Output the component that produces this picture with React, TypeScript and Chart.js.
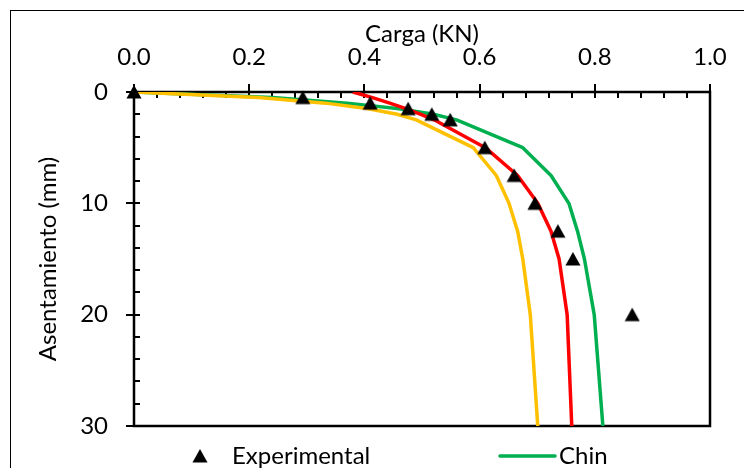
import React, { useEffect, useRef } from "react";
import { Chart, registerables } from "chart.js";

Chart.register(...registerables);

// ---- data ----
const settlementExp = [0, 0.5, 1, 1.5, 2, 2.5, 5, 7.5, 10, 12.5, 15, 20];
const loadExp = [0, 0.293, 0.41, 0.476, 0.517, 0.549, 0.609, 0.66, 0.696, 0.736, 0.762, 0.865];

const settlementModel = [0, 0.5, 1, 1.5, 2, 2.5, 5, 7.5, 10, 12.5, 15, 20, 30];
const loadChin = [0, 0.24, 0.37, 0.46, 0.52, 0.56, 0.675, 0.724, 0.755, 0.77, 0.782, 0.799, 0.814];
const loadVanDerVeen = [0.38, 0.414, 0.444, 0.472, 0.498, 0.521, 0.61, 0.666, 0.701, 0.724, 0.738, 0.752, 0.76];
const loadDecourt = [0, 0.216, 0.333, 0.407, 0.457, 0.49, 0.589, 0.629, 0.651, 0.666, 0.675, 0.688, 0.701];

const seriesLabels = ["Experimental", "Chin", "Van der Veen", "Decourt"];
const seriesColors = ["#000000", "#00B050", "#FF0000", "#FFC000"];

const xTicks = [0, 0.2, 0.4, 0.6, 0.8, 1.0];
const yTicks = [0, 10, 20, 30];
const xMinorStep = 0.04;
const yMinorStep = 2;

const xTitle = "Carga (KN)";
const yTitle = "Asentamiento (mm)";

const FONT = "Lato";
const FS = 24;

function pts(xs: number[], ys: number[]) {
  return xs.map((x, i) => ({ x, y: ys[i] }));
}

function makeTriangle(): HTMLCanvasElement {
  const c = document.createElement("canvas");
  c.width = 16;
  c.height = 16;
  const g = c.getContext("2d")!;
  g.fillStyle = "#000";
  g.beginPath();
  g.moveTo(8, 1);
  g.lineTo(15.5, 14.5);
  g.lineTo(0.5, 14.5);
  g.closePath();
  g.fill();
  return c;
}

export default function App() {
  const ref = useRef<HTMLCanvasElement>(null);

  useEffect(() => {
    const canvas = ref.current!;
    const marker = makeTriangle();

    const decorPlugin = {
      id: "decor",
      beforeDraw(chart: any) {
        const { ctx, width, height } = chart;
        ctx.save();
        ctx.fillStyle = "#fff";
        ctx.fillRect(0, 0, width, height);
        ctx.strokeStyle = "#000";
        ctx.lineWidth = 1;
        ctx.strokeRect(10.5, 10.5, width, height);
        ctx.restore();
      },
      beforeDatasetsDraw(chart: any) {
        const { ctx, chartArea } = chart;
        const xs = chart.scales.x;
        const ys = chart.scales.y;
        ctx.save();
        ctx.strokeStyle = "#000";
        ctx.lineWidth = 2;
        // inward minor ticks on the top axis
        for (let v = xs.min; v <= xs.max + 1e-9; v += xMinorStep) {
          const px = Math.round(xs.getPixelForValue(v));
          ctx.beginPath();
          ctx.moveTo(px, chartArea.top);
          ctx.lineTo(px, chartArea.top + 6);
          ctx.stroke();
        }
        // inward minor ticks on the left axis
        for (let v = ys.min; v <= ys.max + 1e-9; v += yMinorStep) {
          const py = Math.round(ys.getPixelForValue(v));
          ctx.beginPath();
          ctx.moveTo(chartArea.left, py);
          ctx.lineTo(chartArea.left + 6, py);
          ctx.stroke();
        }
        // plot frame
        ctx.lineWidth = 2.5;
        ctx.strokeRect(
          chartArea.left,
          chartArea.top,
          chartArea.right - chartArea.left,
          chartArea.bottom - chartArea.top
        );
        ctx.restore();
      },
      afterDraw(chart: any) {
        const { ctx } = chart;
        ctx.save();
        ctx.font = `${FS}px ${FONT}`;
        ctx.fillStyle = "#000";
        ctx.textBaseline = "middle";
        ctx.textAlign = "left";
        const rows = [456, 492];
        const colSym = [200, 500];
        const colText = [232, 559];
        seriesLabels.forEach((label, i) => {
          const row = rows[Math.floor(i / 2)];
          const col = i % 2;
          if (i === 0) {
            ctx.drawImage(marker, colSym[0] - 8, row - 8);
          } else {
            ctx.strokeStyle = seriesColors[i];
            ctx.lineWidth = 3.5;
            ctx.lineCap = "round";
            ctx.beginPath();
            ctx.moveTo(colSym[col], row);
            ctx.lineTo(colSym[col] + 55, row);
            ctx.stroke();
          }
          ctx.fillText(label, colText[col], row);
        });
        ctx.restore();
      },
    };

    Chart.defaults.font.family = FONT;
    Chart.defaults.color = "#000";

    const lineDs = (i: number, data: number[], order: number) => ({
      label: seriesLabels[i],
      data: pts(data, settlementModel),
      showLine: true,
      borderColor: seriesColors[i],
      backgroundColor: seriesColors[i],
      borderWidth: 3.5,
      borderJoinStyle: "round",
      pointRadius: 0,
      tension: 0,
      order,
    });

    const chart = new Chart(canvas, {
      type: "scatter",
      data: {
        datasets: [
          {
            label: seriesLabels[0],
            data: pts(loadExp, settlementExp),
            pointStyle: marker as any,
            pointRadius: 8,
            showLine: false,
            clip: false as any,
            order: 0,
          },
          lineDs(1, loadChin, 3),
          lineDs(2, loadVanDerVeen, 1),
          lineDs(3, loadDecourt, 2),
        ] as any,
      },
      options: {
        responsive: false,
        animation: false,
        devicePixelRatio: 1,
        layout: { padding: { left: 0, top: 0, right: 50, bottom: 84 } },
        plugins: {
          legend: { display: false },
          tooltip: { enabled: false },
        },
        scales: {
          x: {
            type: "linear",
            position: "top",
            min: 0,
            max: 1,
            afterBuildTicks: (s: any) => {
              s.ticks = xTicks.map((v) => ({ value: v }));
            },
            afterFit: (s: any) => {
              s.height = 92;
            },
            ticks: {
              font: { size: FS, family: FONT },
              color: "#000",
              padding: 12,
              maxRotation: 0,
              callback: (v: any) => Number(v).toFixed(1),
            },
            grid: {
              display: true,
              drawOnChartArea: false,
              drawTicks: true,
              tickLength: 8,
              lineWidth: 2,
              color: "#000",
            },
            border: { display: false },
            title: {
              display: true,
              text: xTitle,
              font: { size: FS, family: FONT },
              color: "#000",
              padding: { top: 20, bottom: 0 },
            },
          },
          y: {
            type: "linear",
            position: "left",
            reverse: true,
            min: 0,
            max: 30,
            afterBuildTicks: (s: any) => {
              s.ticks = yTicks.map((v) => ({ value: v }));
            },
            afterFit: (s: any) => {
              s.width = 134;
            },
            ticks: {
              font: { size: FS, family: FONT },
              color: "#000",
              padding: 18,
              callback: (v: any) => String(v),
            },
            grid: {
              display: true,
              drawOnChartArea: false,
              drawTicks: true,
              tickLength: 8,
              lineWidth: 2,
              color: "#000",
            },
            border: { display: false },
            title: {
              display: true,
              text: yTitle,
              font: { size: FS, family: FONT },
              color: "#000",
              padding: { top: 34, bottom: 0 },
            },
          },
        },
      } as any,
      plugins: [decorPlugin],
    });

    return () => chart.destroy();
  }, []);

  return (
    <div
      style={{
        position: "fixed",
        left: 0,
        top: 0,
        width: 744,
        height: 468,
        overflow: "hidden",
        background: "#fff",
      }}
    >
      <canvas
        ref={ref}
        width={760}
        height={510}
        style={{ display: "block", width: 760, height: 510 }}
      />
    </div>
  );
}
